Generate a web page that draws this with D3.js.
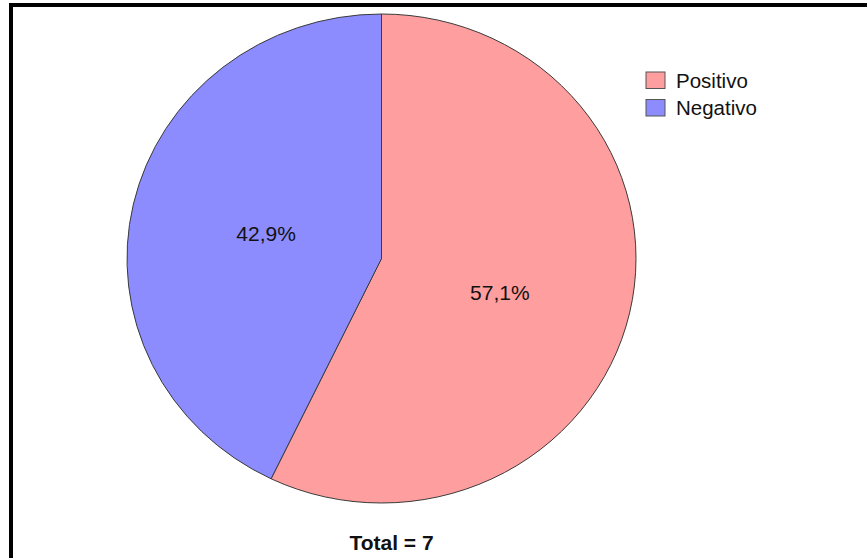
<!DOCTYPE html>
<html><head><meta charset="utf-8">
<script src="https://cdn.jsdelivr.net/npm/d3@7"></script>
<style>html,body{margin:0;padding:0;background:#fff;}svg{display:block;}</style>
</head><body>
<svg id="c" width="867" height="558"></svg>
<script>
const categories = ["Positivo", "Negativo"];
const counts = [4, 3];
const colors = ["#FF9E9E", "#8C8CFF"];
const totalLabel = "Total = 7";

const svg = d3.select("#c");
const FONT = "Liberation Sans, Arial, sans-serif";
// frame
svg.append("path").attr("d", "M11,570 L11,5 L880,5").attr("fill", "none").attr("stroke", "#000").attr("stroke-width", 4);

const cx = 381.5, cy = 258.5, rx = 254.5, ry = 244.5;
const total = d3.sum(counts);
const pie = d3.pie().sort(null).value(d => d)(counts);
const arc = d3.arc().innerRadius(0).outerRadius(rx);
const g = svg.append("g").attr("transform", `translate(${cx},${cy}) scale(1,${ry/rx})`);
g.selectAll("path").data(pie).join("path")
  .attr("d", arc)
  .attr("fill", (d, i) => colors[i])
  .attr("stroke", "#3a3a3a")
  .attr("stroke-width", 1)
  .attr("vector-effect", "non-scaling-stroke");

const labelArc = d3.arc().innerRadius(rx * 0.93).outerRadius(0);
const labelNudge = [[3, 9], [0, 0]];
const fmt = v => (v * 100 / total).toFixed(1).replace(".", ",") + "%";
svg.append("g").selectAll("text").data(pie).join("text")
  .attr("x", (d, i) => cx + labelArc.centroid(d)[0] + labelNudge[i][0])
  .attr("y", (d, i) => cy + labelArc.centroid(d)[1] * ry / rx + labelNudge[i][1])
  .attr("text-anchor", "middle")
  .attr("dominant-baseline", "central")
  .attr("font-family", FONT)
  .attr("font-size", 21)
  .attr("fill", "#111")
  .text(d => fmt(d.data));

// legend
const lg = svg.append("g").attr("transform", "translate(646,72)");
const item = lg.selectAll("g").data(categories).join("g").attr("transform", (d, i) => `translate(0,${i * 27.5})`);
item.append("rect").attr("width", 19).attr("height", 16.5).attr("fill", (d, i) => colors[i]).attr("stroke", "#555").attr("stroke-width", 1);
item.append("text").attr("x", 30).attr("y", 15.5)
  .attr("font-family", FONT).attr("font-size", 20.5).attr("fill", "#111").text(d => d);

svg.append("text").attr("x", cx + 10).attr("y", 550).attr("text-anchor", "middle")
  .attr("font-family", FONT).attr("font-size", 21).attr("font-weight", "bold").attr("fill", "#111")
  .text(totalLabel);
</script>
</body></html>
